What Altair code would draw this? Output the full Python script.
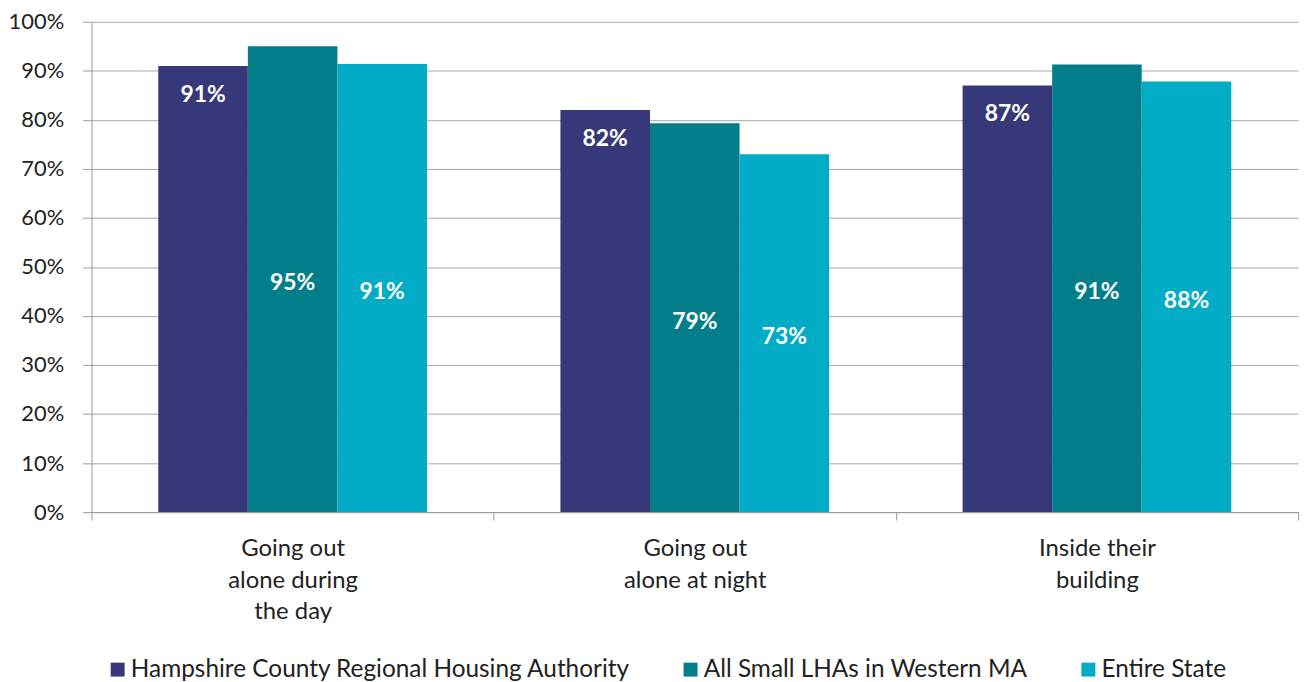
import altair as alt
import pandas as pd

categories = ["Going out alone during the day", "Going out alone at night", "Inside their building"]
series = ["Hampshire County Regional Housing Authority", "All Small LHAs in Western MA", "Entire State"]
hcrha = [0.91, 0.82, 0.87]
small_lhas = [0.95, 0.793, 0.913]
entire_state = [0.914, 0.73, 0.878]
colors = ["#36387A", "#027E8B", "#03ACC6"]

rows = []
for i, c in enumerate(categories):
    for s, vals in zip(series, [hcrha, small_lhas, entire_state]):
        rows.append({"category": c, "series": s, "value": vals[i]})
df = pd.DataFrame(rows)

FONT = "Lato"

label_expr = (
    "datum.value == 'Going out alone during the day' ? ['Going out', 'alone during', 'the day'] : "
    "datum.value == 'Going out alone at night' ? ['Going out', 'alone at night'] : "
    "datum.value == 'Inside their building' ? ['Inside their', 'building'] : ''"
)

x = alt.X("category:N", sort=categories, title=None,
          scale=alt.Scale(paddingInner=0, paddingOuter=0),
          axis=alt.Axis(labelAngle=0, labelExpr=label_expr, tickBand="extent",
                        tickSize=8, tickColor="#999999", domainColor="#999999",
                        labelFont=FONT, labelFontSize=24, labelColor="#222222",
                        labelPadding=17, labelLineHeight=31.5, labelBaseline="top"))
y = alt.Y("value:Q", title=None,
          scale=alt.Scale(domain=[0, 1], nice=False),
          axis=alt.Axis(format=".0%", values=[i / 10 for i in range(11)],
                        tickSize=9, tickColor="#999999", domainColor="#999999",
                        gridColor="#a6a6a6", labelFont=FONT, labelFontSize=22,
                        labelColor="#222222", labelPadding=19))
xoff = alt.XOffset("series:N", sort=series,
                   scale=alt.Scale(paddingInner=0, paddingOuter=0.745))

bars = alt.Chart(df).mark_bar().encode(
    x=x, y=y, xOffset=xoff,
    color=alt.Color("series:N", sort=series,
                    scale=alt.Scale(domain=series, range=colors),
                    legend=alt.Legend(title=None, orient="none", direction="horizontal",
                                      legendX=14, legendY=639,
                                      symbolType="square", symbolSize=196,
                                      symbolStrokeWidth=0, labelFont=FONT,
                                      labelFontSize=24.5, labelColor="#222222",
                                      labelOffset=1, columnPadding=48, labelLimit=800)),
)

top_labels = alt.Chart(df).transform_filter(
    alt.datum.series == series[0]
).mark_text(font=FONT, fontSize=23, fontWeight="bold", color="white",
            baseline="middle", dy=29).encode(
    x=alt.X("category:N", sort=categories),
    xOffset=alt.XOffset("series:N", sort=series),
    y=alt.Y("value:Q"),
    text=alt.Text("value:Q", format=".0%"),
)

mid_labels = alt.Chart(df).transform_filter(
    alt.datum.series != series[0]
).transform_calculate(
    mid="datum.value / 2"
).mark_text(font=FONT, fontSize=23, fontWeight="bold", color="white",
            baseline="middle", dy=4).encode(
    x=alt.X("category:N", sort=categories),
    xOffset=alt.XOffset("series:N", sort=series),
    y=alt.Y("mid:Q"),
    text=alt.Text("value:Q", format=".0%"),
)

chart = alt.layer(bars, top_labels, mid_labels).properties(
    width=1213, height=493,
    padding={"left": 0, "top": 1, "right": 0, "bottom": 0},
).configure_view(stroke=None).configure_axis(grid=False).configure_axisY(grid=True)

chart.save("out.html", embed_options={"renderer": "svg", "actions": False})
